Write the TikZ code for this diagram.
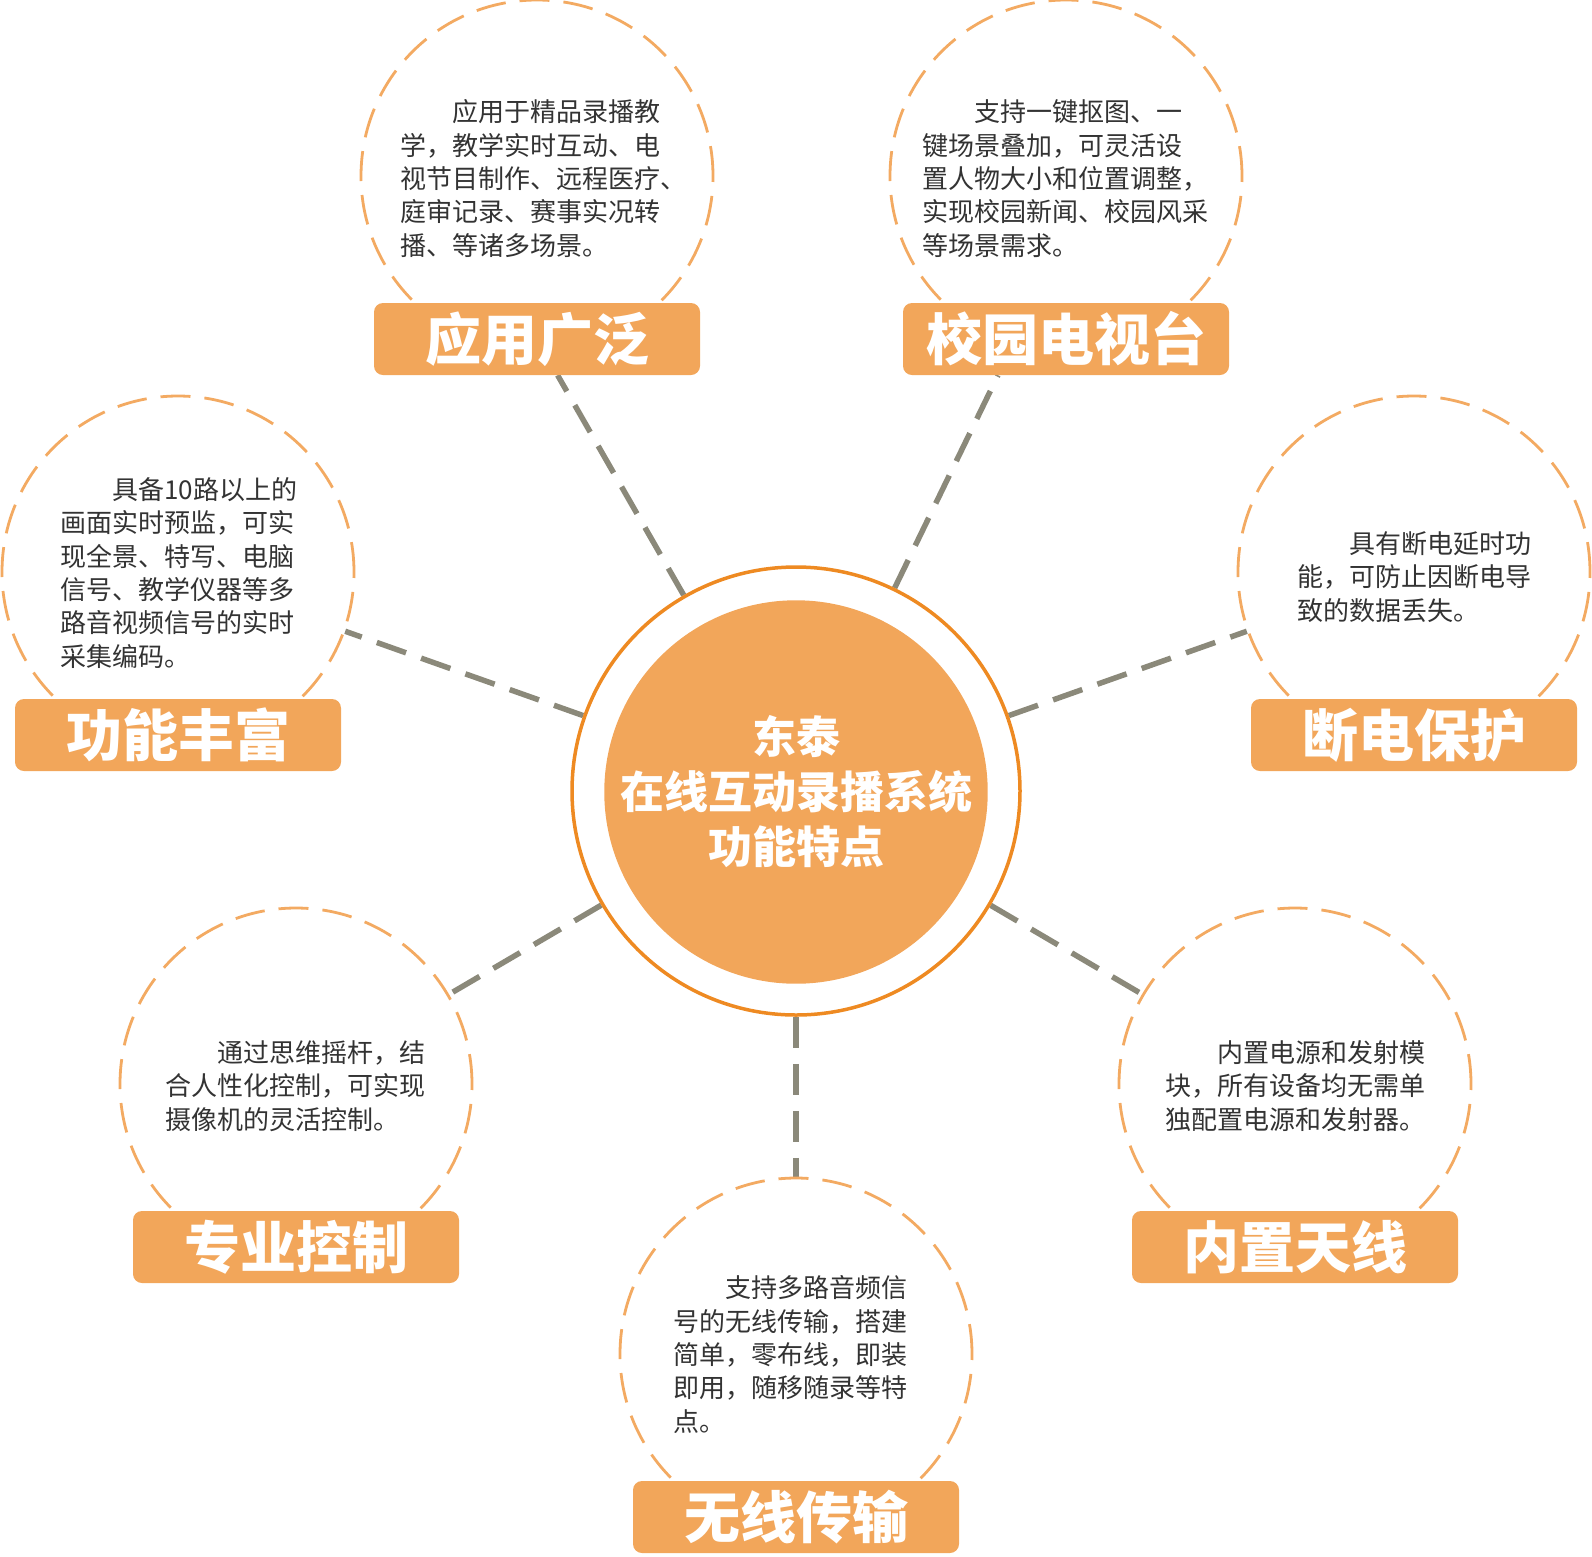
\documentclass[tikz,border=0pt]{standalone}
\usepackage{fontspec}
\setmainfont{Noto Sans CJK SC}
\usetikzlibrary{positioning,backgrounds}
\definecolor{tagorange}{HTML}{F2A65A}
\definecolor{ringorange}{HTML}{EE8A22}
\definecolor{dashorange}{HTML}{F3AA62}
\definecolor{linkgray}{HTML}{8B897A}
\definecolor{textgray}{HTML}{333333}
\tikzset{
	x=1pt, y=-1pt, % one unit is one pixel of the picture, y runs downwards
	bubble/.style={circle, draw=dashorange, line width=2.8pt, dash pattern=on 30pt off 14pt, fill=white, minimum size=352pt, inner sep=0pt}, % dashed circle round each feature
	tag/.style={rectangle, rounded corners=9pt, fill=tagorange, text=white, minimum width=326pt, minimum height=72pt, font=\fontsize{56}{60}\selectfont\bfseries}, % orange title bar
	info/.style={align=left, text=textgray, inner sep=0pt, anchor=base west, font=\fontsize{26}{33.3}\selectfont}, % placed at the baseline of its last line
	link/.style={draw=linkgray, line width=5.5pt, dash pattern=on 31pt off 16pt}
}

\begin{document}
\begin{tikzpicture}
            \useasboundingbox (0,0) rectangle (1592,1556);
            \node[circle, draw=ringorange, line width=3.5pt, minimum size=448pt, inner sep=0pt] (0) at (796,791) {};
            \node[circle, fill=tagorange, minimum size=380pt, inner sep=0pt, text=white, align=center, font=\fontsize{44}{55}\selectfont\bfseries] (core) at (796,792) {东泰\\在线互动录播系统\\功能特点};
            \node[bubble] (1) at (537,176) {};
            \node[bubble] (2) at (1066,176) {};
            \node[bubble] (3) at (178,572) {};
            \node[bubble] (4) at (1414,572) {};
            \node[bubble] (5) at (296,1084) {};
            \node[bubble] (6) at (1295,1084) {};
            \node[bubble] (7) at (796,1354) {};
            \node[tag] (t1) at ([yshift=-163pt]1) {应用广泛};
            \node[tag] (t2) at ([yshift=-163pt]2) {校园电视台};
            \node[tag] (t3) at ([yshift=-163pt]3) {功能丰富};
            \node[tag] (t4) at ([yshift=-163pt]4) {断电保护};
            \node[tag] (t5) at ([yshift=-163pt]5) {专业控制};
            \node[tag] (t6) at ([yshift=-163pt]6) {内置天线};
            \node[tag] (t7) at ([yshift=-163pt]7) {无线传输};
            \node[info] (i1) at (400,255) {\hspace*{2em}应用于精品录播教\\学，教学实时互动、电\\视节目制作、远程医疗、\\庭审记录、赛事实况转\\播、等诸多场景。};
            \node[info] (i2) at (922,255) {\hspace*{2em}支持一键抠图、一\\键场景叠加，可灵活设\\置人物大小和位置调整，\\实现校园新闻、校园风采\\等场景需求。};
            \node[info] (i3) at (60,666) {\hspace*{2em}具备10路以上的\\画面实时预监，可实\\现全景、特写、电脑\\信号、教学仪器等多\\路音视频信号的实时\\采集编码。};
            \node[info] (i4) at (1297,620) {\hspace*{2em}具有断电延时功\\能，可防止因断电导\\致的数据丢失。};
            \node[info] (i5) at (165,1129) {\hspace*{2em}通过思维摇杆，结\\合人性化控制，可实现\\摄像机的灵活控制。};
            \node[info] (i6) at (1165,1129) {\hspace*{2em}内置电源和发射模\\块，所有设备均无需单\\独配置电源和发射器。};
            \node[info] (i7) at (673,1431) {\hspace*{2em}支持多路音频信\\号的无线传输，搭建\\简单，零布线，即装\\即用，随移随录等特\\点。};
            \begin{scope}[on background layer]
            \draw[link] (0) -- (t1);
            \draw[link] (0) -- ([xshift=-68pt]t2.south);
            \draw[link] (0) -- (3);
            \draw[link] (0) -- (4);
            \draw[link] (0) -- (5);
            \draw[link] (0) -- (6);
            \draw[link] (0) -- (7);
            \end{scope}
        \end{tikzpicture}
\end{document}
